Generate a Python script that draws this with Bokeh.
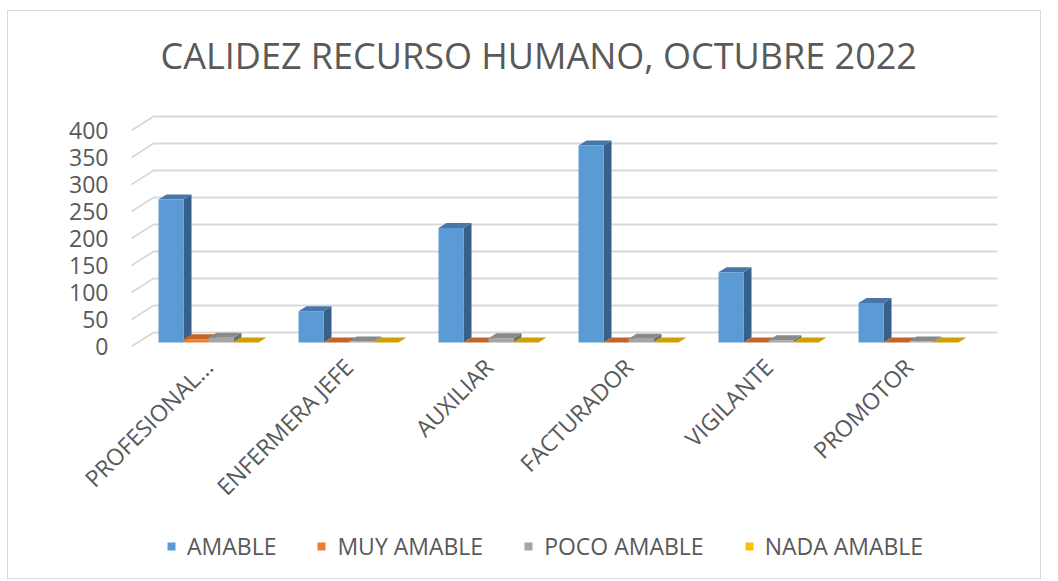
import math
from bokeh.plotting import figure
from bokeh.models import Range1d, FixedTicker, Legend, LegendItem, ColumnDataSource
from bokeh.embed import file_html
from bokeh.resources import INLINE

# ---------------- data ----------------
categories = ["PROFESIONAL...", "ENFERMERA JEFE", "AUXILIAR", "FACTURADOR", "VIGILANTE", "PROMOTOR"]
amable = [265, 58, 212, 365, 130, 73]
muy_amable = [6, 0, 0, 0, 0, 0]
poco_amable = [9, 2, 8, 7, 4, 2]
nada_amable = [0, 0, 0, 0, 0, 0]
series_names = ["AMABLE", "MUY AMABLE", "POCO AMABLE", "NADA AMABLE"]
y_ticks = [0, 50, 100, 150, 200, 250, 300, 350, 400]

# ---------------- styles ----------------
front_colors = ["#5B9BD5", "#ED7D31", "#A5A5A5", "#FFC000"]
top_colors = ["#4677A8", "#C4642A", "#8A8A8A", "#D1A000"]
side_colors = ["#37618A", "#A9551F", "#707070", "#B08A00"]
TEXT = "#595959"
GRID = "#D9D9D9"
FONT = "Open Sans"

px_x = 1 / 140.0          # x units per pixel
px_y = 1 / 0.54           # value units per pixel
bar_w = 25 * px_x
group_start = 0.1429
bar_base = 4 * px_y       # bars sit a little behind the front plane
bdx, bdy = 8 * px_x, 5 * px_y          # bar depth
wdx, wdy = 22 * px_x, 14 * px_y        # wall depth
wall_left = -0.05
wall_right = 6.136 - wdx
floor_front = -11.1       # where the category axis sits
value_axis_x = -0.1429    # where the value axis sits

p = figure(frame_width=980, frame_height=482, output_backend="svg", toolbar_location=None,
           x_range=Range1d(-0.8429, 6.157), y_range=Range1d(-414.8, 477.8),
           min_border_left=12, min_border_right=40, min_border_top=77, min_border_bottom=8)
p.styles = {"border": "1px solid #D9D9D9", "margin-left": "7px", "margin-top": "10px"}
p.outline_line_color = None
p.xgrid.visible = False
p.ygrid.visible = False
p.background_fill_color = "white"
p.border_fill_color = "white"

# back wall + side wall gridlines, from tick values
gx, gy = [], []
for t in y_ticks:
    gx.append([wall_left, wall_left + wdx, wall_right + wdx])
    gy.append([t, t + wdy, t + wdy])
p.multi_line(gx, gy, line_color=GRID, line_width=1.8)

series_vals = [amable, muy_amable, poco_amable, nada_amable]
renderers = []
for s, vals in enumerate(series_vals):
    x0 = [i + group_start + s * bar_w for i in range(len(categories))]
    x1 = [a + bar_w for a in x0]
    xc = [a + bar_w / 2 for a in x0]
    top = [bar_base + v for v in vals]
    side_xs = [[b, b + bdx, b + bdx, b] for b in x1]
    side_ys = [[bar_base, bar_base + bdy, t + bdy, t] for t in top]
    top_xs = [[a, b, b + bdx, a + bdx] for a, b in zip(x0, x1)]
    top_ys = [[t, t, t + bdy, t + bdy] for t in top]
    p.patches(side_xs, side_ys, fill_color=side_colors[s], line_color=None)
    p.patches(top_xs, top_ys, fill_color=top_colors[s], line_color=None)
    src = ColumnDataSource(dict(x=xc, top=top, bottom=[bar_base] * len(vals), cat=categories, v=vals))
    r = p.vbar(x="x", top="top", bottom="bottom", width=bar_w, source=src,
               fill_color=front_colors[s], line_color=None)
    renderers.append(r)

# axes
p.yaxis.fixed_location = value_axis_x
p.yaxis.ticker = FixedTicker(ticks=y_ticks)
p.yaxis.axis_line_color = None
p.yaxis.major_tick_line_color = None
p.yaxis.minor_tick_line_color = None
p.yaxis.major_tick_out = 0
p.yaxis.major_tick_in = 0
p.yaxis.major_label_text_font = FONT
p.yaxis.major_label_text_font_size = "23px"
p.yaxis.major_label_text_color = TEXT
p.yaxis.major_label_standoff = 10

p.xaxis.fixed_location = floor_front
p.xaxis.ticker = FixedTicker(ticks=[i + 0.5 for i in range(len(categories))])
p.xaxis.major_label_overrides = {i + 0.5: c for i, c in enumerate(categories)}
p.xaxis.major_label_orientation = math.pi / 4
p.xaxis.axis_line_color = None
p.xaxis.major_tick_line_color = None
p.xaxis.minor_tick_line_color = None
p.xaxis.major_tick_out = 0
p.xaxis.major_tick_in = 0
p.xaxis.major_label_text_font = FONT
p.xaxis.major_label_text_font_size = "23px"
p.xaxis.major_label_text_color = TEXT
p.xaxis.major_label_standoff = 10

# title
p.title.text = "CALIDEZ RECURSO HUMANO, OCTUBRE 2022"
p.title.text_font = FONT
p.title.text_font_size = "36px"
p.title.text_font_style = "normal"
p.title.text_color = TEXT
p.title.align = "left"
p.title.offset = 140
p.title.standoff = 18

legend = Legend(items=[LegendItem(label=n, renderers=[r]) for n, r in zip(series_names, renderers)],
                orientation="horizontal", location=(146, 8))
legend.label_text_font = FONT
legend.label_text_font_size = "23px"
legend.label_text_color = TEXT
legend.glyph_width = 10
legend.glyph_height = 10
legend.label_standoff = 11
legend.spacing = 40
legend.padding = 0
legend.margin = 0
legend.border_line_color = None
legend.background_fill_alpha = 0
p.add_layout(legend, "center")

open("out.html", "w").write(file_html(p, INLINE))
